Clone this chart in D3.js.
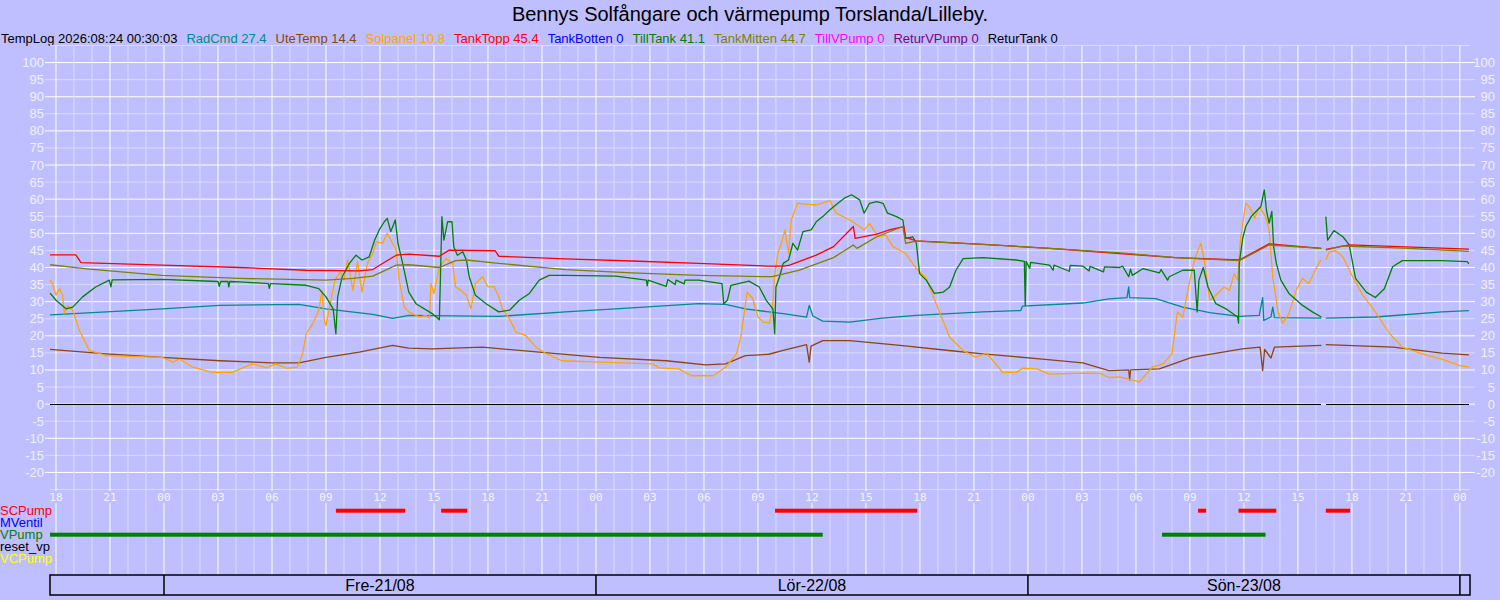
<!DOCTYPE html>
<html>
<head>
<meta charset="utf-8">
<script src="https://cdn.jsdelivr.net/npm/d3@7"></script>
<style>
body { margin: 0; background: #bfbfff; }
svg { display: block; font-family: "Liberation Sans", Arial, sans-serif; }
</style>
</head>
<body>
<svg id="chart" width="1500" height="600"></svg>
<script>
// all times are hours counted from Thu 20/08 18:00
const base = new Date(2026, 7, 20, 18, 0, 0);
const tStart = -1 / 3, tEnd = 78.56;

const title = "Bennys Solfångare och värmepump Torslanda/Lilleby.";
const stamp = "TempLog 2026:08:24 00:30:03";
const legendNames = ["RadCmd", "UteTemp", "Solpanel", "TankTopp", "TankBotten", "TillTank", "TankMitten", "TillVPump", "ReturVPump", "ReturTank"];
const legendValues = ["27.4", "14.4", "10.8", "45.4", "0", "41.1", "44.7", "0", "0", "0"];

const yTicks = d3.range(-20, 101, 5);
const pumpRows = ["SCPump", "MVentil", "VPump", "reset_vp", "VCPump"];
const dayLabels = ["Fre-21/08", "Lör-22/08", "Sön-23/08"];

const radCmd = [[-0.33,26.1],[2.8,27],[5.9,27.9],[9.1,28.9],[13.5,29.2],[15,27.9],[17.6,26.3],[18.7,25.1],[19.6,26],[24.6,25.7],[28.3,27],[32,28.2],[35.7,29.4],[37.2,29.2],[38.3,27.9],[39.6,27],[40.4,26.5],[41.7,25.5],[41.85,28.9],[42.05,25.8],[42.6,24.3],[44.1,24],[45.9,25.2],[47.8,26],[51.5,27],[53.6,27.4],[53.7,28.7],[57.05,29.6],[58.5,30.8],[59.5,31.2],[59.6,34.3],[59.65,31.2],[61.1,30.9],[62.6,28.4],[64.1,26.8],[65.74,25.7],[66.85,26],[67.04,31.2],[67.1,24.5],[67.5,25.5],[67.6,28.4],[67.7,25.3],[70.3,25.2],[70.4,null],[70.55,25.2],[73.3,25.5],[77,27],[78.5,27.4]];

const uteTemp = [[-0.33,16],[2.8,14.7],[5.9,13.7],[9.1,12.7],[12,12.1],[13.5,12.1],[15,13.7],[16.85,15.2],[18.7,17.2],[19.6,16.4],[20.9,16.2],[23.7,16.7],[26.85,15.2],[30.2,13.7],[33.9,12.7],[36.1,11.5],[37.2,11.8],[38.3,14.2],[39.6,14.6],[40.4,15.7],[41.7,17.4],[41.85,12.3],[41.95,17],[42.6,18.6],[44.1,18.6],[46.9,17.2],[49.6,15.7],[51.5,14.7],[54.8,13.2],[57.05,12.1],[58.5,9.8],[59.6,10],[59.65,7.1],[59.7,10],[61.3,10.3],[63.1,13.7],[65.9,16.2],[66.9,16.7],[67.04,9.8],[67.15,16],[67.5,13.5],[67.7,16.7],[70.3,17.2],[70.4,null],[70.55,17.4],[74.3,16.7],[77,14.9],[78.5,14.4]];

const solpanel = [[-0.33,36.3],[-0.2,35.3],[0,31.9],[0.2,33.8],[0.37,31.9],[0.46,26.5],[0.65,28.9],[0.93,27.5],[1.3,21.6],[1.85,15.7],[2.8,14.2],[5.9,13.7],[6.5,12.3],[6.85,13.2],[7.6,10.8],[8.7,9.3],[9.8,9.3],[10.9,11.8],[11.7,10.6],[12.2,11.8],[12.8,10.5],[13.4,10.8],[13.7,14.7],[13.9,20.6],[14.26,23.5],[14.6,27.5],[14.78,33.3],[14.9,24.5],[15,23],[15.2,28.4],[15.5,36.3],[15.8,38.7],[16,36.3],[16.2,42.2],[16.5,33.3],[16.75,41.7],[17,32.8],[17.3,41.2],[17.6,44.1],[17.8,47.5],[18.15,47.1],[18.4,50],[18.7,47.1],[18.9,45.1],[19.07,36.3],[19.35,28.4],[19.6,27],[19.8,26.5],[20.2,25.5],[20.55,26],[20.75,25.2],[20.83,35.3],[21,32.4],[21.3,40.2],[21.67,42.6],[22.04,41.2],[22.2,34.3],[22.5,33.3],[22.8,31.9],[23.05,27.9],[23.3,35.3],[23.7,37.3],[24,34.3],[24.35,34.3],[24.6,31.4],[24.8,27.9],[25.2,25],[25.55,21.1],[26.1,20.1],[26.67,16.7],[27.2,14.9],[28.1,12.7],[30.2,12.3],[33.15,11.8],[33.5,10.6],[34.6,10.3],[35.3,8.3],[36.5,8.3],[37.2,10.8],[37.8,14.7],[38.05,19.6],[38.4,32.8],[38.7,31],[39,25.5],[39.3,24],[39.65,23.7],[39.83,29.4],[39.9,36.3],[40.1,44.1],[40.3,47.1],[40.5,51],[40.7,44.1],[40.85,53.9],[41.2,58.8],[42.24,58.3],[43,59.6],[43.35,55.9],[44.1,53.9],[44.65,52],[44.9,51],[45.2,52.9],[45.67,49],[46.1,49.5],[46.5,46.1],[47.2,44.1],[47.8,39.7],[48.35,36.8],[48.9,29.4],[49.65,19.6],[50.4,15.7],[51.1,13.7],[51.7,14.9],[52.6,9.3],[53.35,9.3],[53.7,10.5],[54.5,10.3],[55.2,8.8],[57.05,9.1],[58,9],[58.5,7.8],[59.1,8],[60.2,6.5],[60.9,10.8],[61.5,11.8],[62,14.7],[62.3,27],[62.6,25.5],[63,36.3],[63.3,43.1],[63.6,47.1],[63.8,42.2],[64.1,30.4],[64.44,31.9],[64.9,34.3],[65.2,33.3],[65.46,38.2],[65.65,36.3],[65.8,48],[66.1,58.8],[66.3,57.8],[66.6,54.4],[66.85,57.8],[67.2,54.9],[67.4,51],[67.6,37.3],[67.9,27],[68.15,23.7],[68.5,26.5],[68.9,33.3],[69.26,36.8],[69.6,35.3],[70.2,41.7],[70.3,42.2],[70.4,null],[70.55,42.2],[70.74,44.6],[71.1,44.9],[71.5,43.1],[72.04,37.3],[72.6,31.9],[73.3,27],[74.1,20.6],[74.8,16.7],[75.9,14.7],[77,13.2],[78,11.3],[78.5,10.8]];

const tankTopp = [[-0.33,43.7],[1.1,43.7],[1.39,41.4],[5.9,40.7],[10.2,40],[13.9,39.2],[16.85,39],[17.6,39.4],[18.3,41.7],[18.9,43.6],[19.6,43.9],[21.3,43.3],[21.85,45.1],[24.4,44.9],[24.6,43.3],[28.3,42.5],[32,41.9],[35.7,41.2],[39.6,40.4],[40.4,40.4],[40.76,40.7],[42.24,43.6],[43.2,46.1],[44.3,52],[44.4,48.5],[45.6,49.8],[46.3,51],[47.1,52],[47.2,48.8],[47.8,47.8],[51.5,46.8],[55.2,45.6],[59.1,44.1],[62.2,42.9],[65.74,42.2],[67.4,46.9],[70.3,45.6],[70.4,null],[70.55,45.3],[71.85,46.6],[78.5,45.4]];

const tillTank = [[-0.33,32.5],[0,30.4],[0.56,27.9],[0.93,28.4],[1.48,31.4],[2.2,34.3],[2.96,36.3],[3.05,34.3],[3.12,36.4],[5.9,36.5],[9,35.9],[9.07,34.5],[9.15,35.9],[9.55,35.9],[9.6,34.3],[9.65,35.9],[10.2,35.8],[11.8,35.3],[11.85,33.9],[11.92,35.3],[12,35.3],[13.9,34.8],[14.6,33.8],[15,31.4],[15.4,27.9],[15.55,20.6],[15.65,31.4],[15.9,37.3],[16.3,41.2],[16.67,43.6],[17,42.2],[17.4,43.1],[17.7,48],[17.96,51],[18.24,53.4],[18.4,54.4],[18.6,50.5],[18.85,53.9],[19,47.1],[19.26,41.2],[19.6,32.8],[20,29.4],[20.9,26.5],[21.3,24.7],[21.4,46.1],[21.44,54.9],[21.55,48],[21.76,53.4],[22,53.4],[22.1,46.1],[22.3,43.6],[22.6,44.6],[22.8,42.2],[22.96,37.3],[23.3,31.9],[23.9,29.4],[24.6,27],[25.2,27.5],[25.74,30.4],[26.3,32.4],[26.85,36.3],[27.4,37.7],[28.3,37.7],[31.1,37.5],[32.8,36.3],[32.85,34.6],[32.9,36.3],[33.9,34.5],[34,36.5],[34.4,35],[34.45,36.3],[34.9,35.2],[34.95,36.3],[35.7,36.3],[37,35.3],[37.1,29.4],[37.3,30.4],[37.5,34.8],[38.5,36],[39.07,34.3],[39.46,30.4],[39.83,27.9],[39.93,20.6],[40,34.3],[40.2,37.3],[40.4,41.2],[40.7,42.2],[40.94,47.1],[41.2,45.1],[41.5,50.5],[41.96,51],[42.24,53.4],[42.6,54.9],[43,56.9],[43.44,58.8],[43.8,60.3],[44.2,61.3],[44.65,59.8],[44.9,55.9],[45.2,58.8],[45.6,59.3],[45.95,58.8],[46.2,55.9],[46.7,54.9],[47.05,53.9],[47.2,48.5],[47.6,49],[47.8,47.1],[47.98,38.2],[48.35,36.3],[48.8,32.4],[49.3,32.8],[49.65,34.3],[50,39.2],[50.4,42.6],[51.5,42.9],[53.35,42.2],[53.8,41.8],[53.85,28.9],[53.9,41.8],[54.1,39.7],[54.15,41.5],[55.2,40.7],[55.4,39.2],[55.45,40.7],[56.3,38.9],[56.35,40.6],[57.05,40.4],[57.4,39],[57.45,40.3],[58.2,38.7],[58.25,40.2],[59.1,40],[59.26,40.4],[59.6,37.3],[59.7,39.5],[59.8,37.7],[60.4,39.7],[61.3,38.4],[61.4,39.4],[61.76,36.3],[61.85,37.3],[62.6,39.2],[63.24,39.2],[63.4,27],[63.5,36.3],[63.74,40],[64,34.3],[64.44,29.4],[65,27.9],[65.65,25.5],[65.7,23.7],[65.74,41.2],[65.93,48.5],[66.1,52],[66.4,54.9],[66.67,56.4],[66.94,57.8],[67.13,62.7],[67.26,56.4],[67.4,53],[67.55,56.4],[67.65,46.1],[67.8,41.2],[68.05,36.3],[68.5,32.4],[69.26,28.9],[69.8,27],[70.3,25.5],[70.4,null],[70.55,54.9],[70.65,48],[71,50.8],[71.5,49],[71.85,46.6],[72.2,36.8],[72.8,32.8],[73.3,31.2],[73.8,33.8],[74.26,40.2],[74.8,42],[77,42],[78.4,41.7],[78.5,41.1]];

const tankMitten = [[-0.33,40.8],[1.85,39.5],[5.9,37.7],[10.2,36.8],[15,36.3],[16.5,36.8],[17.6,37.5],[18.9,40.7],[19.6,40.8],[21.3,40],[22.2,42],[22.8,42.2],[24.6,41.2],[28.3,39.4],[32,38.4],[35.7,37.7],[39.8,37.3],[41.3,39.2],[43.2,42.9],[44.3,46.6],[44.5,45.6],[45.6,49],[47.05,52],[47.2,47.1],[47.8,47.7],[51.5,46.8],[55.2,45.6],[59.1,44.3],[62.2,42.9],[65.74,42],[67.4,46.6],[70.3,45.6],[70.4,null],[70.55,45.1],[71.5,46.3],[75.2,45.6],[78.5,44.7]];

// the zero-valued sensors share one trace (they lie under ReturTank)
const zeroTrace = [[-0.33,0],[70.3,0],[70.4,null],[70.55,0],[78.5,0]];

const scPumpOn = [[15.55,19.4],[21.4,22.85],[39.95,47.85],[63.45,63.9],[65.7,67.8],[70.55,71.9]];
const vPumpOn = [[-0.33,42.6],[61.45,67.2]];

const colors = {
    RadCmd: "#008b8b", UteTemp: "#8b4513", Solpanel: "#ffa500", TankTopp: "#ff0000",
    TankBotten: "#0000ff", TillTank: "#008000", TankMitten: "#808000", TillVPump: "#ff00ff",
    ReturVPump: "#800080", ReturTank: "#000000",
    SCPump: "#ff0000", MVentil: "#0000ff", VPump: "#008000", reset_vp: "#000000", VCPump: "#ffff00"
};

const toDate = h => new Date(base.getTime() + h * 3600e3);

const svg = d3.select("#chart");
const plotLeft = 50, plotRight = 1470, plotTop = 45.5, plotBottom = 489.5, gridBottom = 575;

const x = d3.scaleTime().domain([toDate(tStart), toDate(tEnd)]).range([plotLeft, plotRight]);
const y = d3.scaleLinear().domain([-25, 105]).range([plotBottom, plotTop]);

// title + legend line
svg.append("text")
    .attr("x", 750).attr("y", 21)
    .attr("text-anchor", "middle")
    .attr("font-size", 20)
    .text(title);

let lx = 1;
let stampText = svg.append("text").attr("x", lx).attr("y", 43).attr("font-size", 13).text(stamp);
lx += stampText.node().getComputedTextLength() + 9;
legendNames.forEach((name, i) => {
    let item = svg.append("text")
        .attr("x", lx).attr("y", 43)
        .attr("font-size", 13)
        .attr("fill", colors[name])
        .text(`${name} ${legendValues[i]}`);
    lx += item.node().getComputedTextLength() + 9;
});

// grid
let hours = d3.timeHour.range(toDate(0), toDate(78.01));
let grid = svg.append("g").attr("id", "grid");

grid.selectAll("line.hgrid")
    .data(d3.range(-25, 106, 5))
    .enter().append("line")
    .attr("x1", plotLeft).attr("x2", plotRight)
    .attr("y1", d => y(d)).attr("y2", d => y(d))
    .attr("stroke", d => d % 10 == 0 ? "#ffffff" : "#dadaff")
    .attr("stroke-width", 1);

grid.selectAll("line.vgrid")
    .data(hours)
    .enter().append("line")
    .attr("x1", d => x(d)).attr("x2", d => x(d))
    .attr("y1", plotTop).attr("y2", gridBottom)
    .attr("stroke", d => d.getHours() % 3 == 0 ? "#ffffff" : "#dadaff")
    .attr("stroke-width", 1);

// y axis labels, both sides
[[plotLeft, -1, 44], [plotRight, 1, 1495]].forEach(([edge, dir, tx]) => {
    let g = svg.append("g");
    g.selectAll("line")
        .data(yTicks).enter().append("line")
        .attr("x1", edge).attr("x2", edge + dir * 5)
        .attr("y1", d => y(d)).attr("y2", d => y(d))
        .attr("stroke", d => d % 10 == 0 ? "#ffffff" : "#dadaff");
    g.selectAll("text")
        .data(yTicks).enter().append("text")
        .attr("x", tx).attr("y", d => y(d) + 4.5)
        .attr("text-anchor", "end")
        .attr("font-size", 13)
        .attr("fill", "#f0f0ff")
        .text(d => d);
});

// hour labels on the x axis
let hourTicks = hours.filter(d => d.getHours() % 3 == 0);
let xlab = svg.append("g").attr("font-family", "DejaVu Sans Mono, monospace").attr("font-size", 11);
xlab.selectAll("rect")
    .data(hourTicks).enter().append("rect")
    .attr("x", d => x(d) - 8).attr("y", 491)
    .attr("width", 16).attr("height", 12)
    .attr("fill", "#bfbfff");
xlab.selectAll("text")
    .data(hourTicks).enter().append("text")
    .attr("x", d => x(d)).attr("y", 501)
    .attr("text-anchor", "middle")
    .attr("fill", "#f4f4ff")
    .text(d3.timeFormat("%H"));

// series
const line = d3.line()
    .defined(d => d[1] != null)
    .x(d => x(toDate(d[0])))
    .y(d => y(d[1]));

const traces = [
    ["TankBotten", zeroTrace], ["TillVPump", zeroTrace], ["ReturVPump", zeroTrace], ["ReturTank", zeroTrace],
    ["RadCmd", radCmd], ["UteTemp", uteTemp], ["Solpanel", solpanel],
    ["TillTank", tillTank], ["TankTopp", tankTopp], ["TankMitten", tankMitten]
];

svg.append("g").attr("id", "body")
    .selectAll("path")
    .data(traces).enter().append("path")
    .attr("d", d => line(d[1]))
    .attr("fill", "none")
    .attr("stroke", d => colors[d[0]])
    .attr("stroke-width", d => d[1] === zeroTrace ? 1 : 1.3)
    .attr("shape-rendering", d => d[1] === zeroTrace ? "crispEdges" : null)
    .attr("stroke-linejoin", "round");

// pump rows
const row = d3.scalePoint().domain(pumpRows).range([510.7, 558.7]);
svg.append("g").selectAll("text")
    .data(pumpRows).enter().append("text")
    .attr("x", 0).attr("y", d => row(d) + 4.5)
    .attr("font-size", 13)
    .attr("fill", d => colors[d])
    .text(d => d);

[["SCPump", scPumpOn], ["VPump", vPumpOn]].forEach(([name, spans]) => {
    svg.append("g").selectAll("rect")
        .data(spans).enter().append("rect")
        .attr("x", d => x(toDate(d[0])))
        .attr("width", d => x(toDate(d[1])) - x(toDate(d[0])))
        .attr("y", row(name) - 2).attr("height", 4)
        .attr("fill", colors[name]);
});

// day bar
let dayBar = svg.append("g");
dayBar.append("rect")
    .attr("x", plotLeft).attr("y", 575)
    .attr("width", plotRight - plotLeft).attr("height", 20)
    .attr("fill", "#bfbfff")
    .attr("stroke", "#000").attr("stroke-width", 1.5);
let midnights = d3.timeDay.range(toDate(0), toDate(79));
dayBar.selectAll("line")
    .data(midnights).enter().append("line")
    .attr("x1", d => x(d)).attr("x2", d => x(d))
    .attr("y1", 575).attr("y2", 595)
    .attr("stroke", "#000").attr("stroke-width", 1.5);
dayBar.selectAll("text")
    .data(dayLabels).enter().append("text")
    .attr("x", (d, i) => (x(midnights[i]) + x(midnights[i + 1])) / 2)
    .attr("y", 591)
    .attr("text-anchor", "middle")
    .attr("font-size", 16)
    .text(d => d);
</script>
</body>
</html>
